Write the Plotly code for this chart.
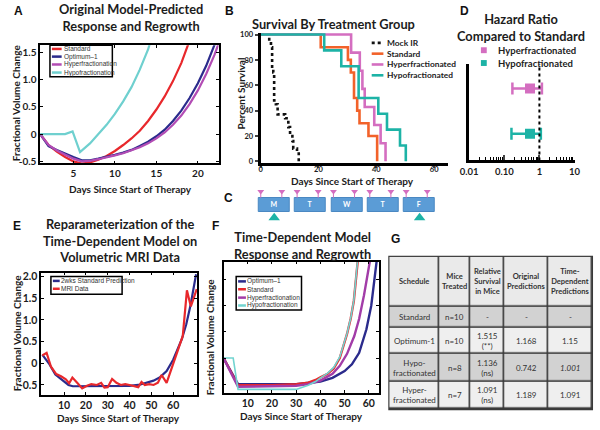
import plotly.graph_objects as go

W, H = 600, 430
def fx(p): return p / W
def fy(p): return 1 - p / H

# ---------------- Panel A : original model predictions ----------------
A_names = ["Standard", "Optimum\u20131", "Hyperfractionation", "Hypofractionation"]
A_colors = ["#e8282c", "#2b2b8c", "#b24cb4", "#6fd0cf"]
A_std_days = [1, 2, 3, 4, 5, 6, 7, 8, 9, 10, 11, 12, 13, 14, 15, 16, 17, 18, 18.8, 19.2]
A_std_vals = [0, -0.2, -0.32, -0.42, -0.5, -0.54, -0.52, -0.47, -0.4, -0.31, -0.2, -0.08, 0.06, 0.24, 0.45, 0.69, 0.97, 1.3, 1.63, 1.8]
A_opt_days = [1, 2, 3, 4, 5, 6, 7, 8, 9, 10, 11, 12, 13, 14, 15, 16, 17, 18, 19, 20, 21, 22, 22.3]
A_opt_vals = [0, -0.22, -0.29, -0.36, -0.42, -0.48, -0.48, -0.45, -0.42, -0.38, -0.34, -0.29, -0.22, -0.14, -0.04, 0.08, 0.24, 0.43, 0.66, 0.93, 1.25, 1.62, 1.75]
A_hyper_days = [1, 2, 3, 4, 5, 6, 7, 8, 9, 10, 11, 12, 13, 14, 15, 16, 17, 18, 19, 20, 21, 22, 22.6]
A_hyper_vals = [0, -0.2, -0.3, -0.38, -0.45, -0.5, -0.49, -0.46, -0.43, -0.39, -0.35, -0.3, -0.24, -0.17, -0.08, 0.03, 0.17, 0.34, 0.55, 0.8, 1.1, 1.45, 1.7]
A_hypo_days = [1, 4, 4.9, 5.8, 7, 8, 9, 10, 11, 12, 13, 14, 14.3]
A_hypo_vals = [0, 0, 0.05, -0.33, -0.17, 0.0, 0.17, 0.37, 0.6, 0.86, 1.18, 1.55, 1.7]
A_xticks = [5, 10, 15, 20]
A_yticks = [-0.5, 0, 0.5, 1.0, 1.5]
A_yticklabels = ["-0.5", "0", "0.5", "1.0", "1.5"]

# ---------------- Panel B : survival ----------------
B_names = ["Mock IR", "Standard", "Hyperfractionated", "Hypofractionated"]
B_colors = ["#111111", "#f2622a", "#d46ec0", "#1db3a6"]
B_mock_days = [0, 3.0, 3.6, 4.0, 4.4, 4.7, 5.3, 5.9, 8.5, 9.6, 10.2, 11.0, 11.3, 12.6, 13.2]
B_mock_surv = [100, 93, 90, 73, 70, 48, 45, 37, 34, 27, 20, 16, 10, 8, 0]
B_std_days = [0, 20.8, 30.2, 31.2, 32.3, 33.4, 34.2, 37.3, 40.3]
B_std_surv = [100, 90, 80, 70, 50, 40, 30, 20, 0]
B_hyper_days = [0, 31.3, 34.3, 35.2, 36.0, 39.3, 41.5, 43.2]
B_hyper_surv = [100, 85.7, 71.4, 57.1, 42.9, 28.6, 14.3, 0]
B_hypo_days = [0, 22.0, 27.9, 33.9, 40.7, 43.7, 48.2, 50.2]
B_hypo_surv = [100, 87.5, 75, 50, 37.5, 25, 12.5, 0]
B_xticks = [0, 20, 40, 60]
B_yticks = [0, 20, 40, 60, 80, 100]

# ---------------- Panel C : schedule ----------------
C_days = ["M", "T", "W", "T", "F"]
C_day_index = [0, 1, 2, 3, 4]
C_hyper_offsets = [-0.37, 0.21]
C_hypo_days = [0, 4]

# ---------------- Panel D : hazard ratio ----------------
D_groups = ["Hyperfractionated", "Hypofractionated"]
D_colors = ["#d46ec0", "#1db3a6"]
D_hr = [0.54, 0.54]
D_lo = [0.17, 0.16]
D_hi = [1.18, 1.1]
D_rows = [2, 1]
D_ref = 1
D_xticks = [0.01, 0.1, 1, 10]
D_xticklabels = ["0.01", "0.10", "1", "10"]

# ---------------- Panel E : MRI reparameterization ----------------
E_names = ["2wks Standard Prediction", "MRI Data"]
E_colors = ["#2b2b8c", "#e8282c"]
E_pred_days = [0, 3, 6, 9, 12, 14, 20, 30, 40, 45, 48, 51, 54, 57, 60, 62, 64, 66, 68, 70.5]
E_pred_vals = [0.2, 0.0, -0.26, -0.38, -0.5, -0.53, -0.53, -0.53, -0.52, -0.49, -0.45, -0.4, -0.32, -0.18, 0.08, 0.3, 0.56, 0.9, 1.35, 2.05]
E_mri_days = [0, 2, 4, 6.4, 8.6, 10.8, 12.3, 13.8, 16, 18.3, 20.5, 22.5, 25, 27, 28.5, 30, 32, 34, 36, 38, 40,
              42, 44, 45.5, 47, 49, 51, 53, 54.7, 57, 60, 64.4, 66.3, 68.1, 70.8]
E_mri_vals = [0.18, 0.24, -0.08, -0.25, -0.3, -0.37, -0.46, -0.33, -0.45, -0.58, -0.52, -0.48, -0.5, -0.45, -0.56,
              -0.55, -0.36, -0.45, -0.5, -0.48, -0.5, -0.52, -0.55, -0.43, -0.5, -0.48, -0.5, -0.45, -0.27, -0.45,
              0.0, 0.63, 1.68, 1.31, 1.71]
E_xticks = [10, 20, 30, 40, 50, 60]
E_yticks = [-0.5, 0, 0.5, 1.0, 1.5, 2.0]
E_yticklabels = ["-0.5", "0", "0.5", "1.0", "1.5", "2.0"]

# ---------------- Panel F : time-dependent model ----------------
F_names = ["Optimum\u20131", "Standard", "Hyperfractionation", "Hypofractionation"]
F_colors = ["#2b2b8c", "#e8282c", "#a23ca8", "#72d4d0"]
F_opt_days = [0, 6, 30, 35, 40, 45, 50, 53, 56, 59, 61, 63.2]
F_opt_vals = [0, -0.5, -0.5, -0.48, -0.45, -0.38, -0.25, -0.12, 0.1, 0.55, 1.0, 1.84]
F_std_days = [0, 6, 20, 30, 35, 38, 40, 43, 45.5, 48, 51, 52.5, 53.8, 55.4]
F_std_vals = [0, -0.52, -0.52, -0.5, -0.47, -0.42, -0.37, -0.3, -0.2, 0.0, 0.46, 0.75, 1.09, 1.84]
F_hyper_days = [0, 6, 30, 35, 40, 45, 48, 51, 54, 56, 58, 60.4]
F_hyper_vals = [0, -0.55, -0.53, -0.5, -0.43, -0.3, -0.15, 0.08, 0.42, 0.75, 1.2, 1.84]
F_hypo_days = [0, 4, 6, 30, 35, 38, 40, 43, 45.5, 48, 51, 52.5, 53.8, 55.3]
F_hypo_vals = [0, 0, -0.6, -0.6, -0.52, -0.45, -0.38, -0.29, -0.18, 0.02, 0.47, 0.76, 1.1, 1.84]
F_xticks = [10, 20, 30, 40, 50, 60]
F_yticks = [-0.5, 0, 0.5, 1.0, 1.5]

# ---------------- Panel G : table ----------------
G_header = ["<b>Schedule</b>", "<b>Mice<br>Treated</b>", "<b>Relative<br>Survival<br>in Mice</b>",
            "<b>Original<br>Predictions</b>", "<b>Time-<br>Dependent<br>Predictions</b>"]
G_schedule = ["Standard", "Optimum-1", "Hypo-<br>fractionated", "Hyper-<br>fractionated"]
G_mice = ["n=10", "n=10", "n=8", "n=7"]
G_relative = ["-", "1.515<br>(**)", "1.136<br>(ns)", "1.091<br>(ns)"]
G_original = ["-", "1.168", "0.742", "1.189"]
G_timedep = ["-", "1.15", "<i>1.001</i>", "1.091"]
G_row_shade = [1, 0, 1, 0]          # 1 = darker row, 0 = light row
G_col_widths = [51, 32, 35, 45, 45]
G_row_heights = [51, 21, 27, 28, 28]

# ---------------- styles ----------------
BOLD = "Lato"
TXT = "#1c1c1c"
def bfont(size, color=TXT, family=BOLD):
    return dict(family=family, size=size, color=color, weight=700)

fig = go.Figure()

# Panel A traces
for d, v, n, c in zip([A_std_days, A_opt_days, A_hyper_days, A_hypo_days],
                      [A_std_vals, A_opt_vals, A_hyper_vals, A_hypo_vals], A_names, A_colors):
    fig.add_trace(go.Scatter(x=d, y=v, name=n, mode="lines", line=dict(color=c, width=2.2),
                             xaxis="x", yaxis="y", showlegend=False))

# Panel B traces
for d, s, n, c in zip([B_mock_days, B_std_days, B_hyper_days, B_hypo_days],
                      [B_mock_surv, B_std_surv, B_hyper_surv, B_hypo_surv], B_names, B_colors):
    fig.add_trace(go.Scatter(x=d, y=s, name=n, mode="lines", line_shape="hv",
                             line=dict(color=c, width=2.6, dash="dot" if n == "Mock IR" else "solid"),
                             xaxis="x2", yaxis="y2", showlegend=False))

# Panel D traces
for i in range(len(D_groups)):
    fig.add_trace(go.Scatter(x=[D_hr[i]], y=[D_rows[i]], name=D_groups[i], mode="markers",
                             marker=dict(symbol="square", size=10, color=D_colors[i]),
                             error_x=dict(type="data", symmetric=False, array=[D_hi[i] - D_hr[i]],
                                          arrayminus=[D_hr[i] - D_lo[i]], color=D_colors[i],
                                          thickness=2.5, width=6),
                             xaxis="x3", yaxis="y3", showlegend=False))

# Panel E traces
for d, v, n, c in zip([E_pred_days, E_mri_days], [E_pred_vals, E_mri_vals], E_names, E_colors):
    fig.add_trace(go.Scatter(x=d, y=v, name=n, mode="lines", line=dict(color=c, width=2.2),
                             xaxis="x4", yaxis="y4", showlegend=False))

# Panel F traces
for d, v, n, c, w in zip([F_opt_days, F_std_days, F_hyper_days, F_hypo_days],
                         [F_opt_vals, F_std_vals, F_hyper_vals, F_hypo_vals], F_names, F_colors,
                         [2.4, 2.4, 2.4, 1.6]):
    fig.add_trace(go.Scatter(x=d, y=v, name=n, mode="lines", line=dict(color=c, width=w),
                             xaxis="x5", yaxis="y5", showlegend=False))

# Panel C : schedule boxes and fraction markers
fig.add_trace(go.Bar(x=C_day_index, y=[1] * len(C_days), base=0, width=0.86, text=C_days,
                     textposition="inside", insidetextanchor="middle", textangle=0,
                     textfont=bfont(10.5, "white"),
                     marker=dict(color="#5b9cd6", line=dict(color="#4a88c2", width=1)),
                     xaxis="x6", yaxis="y6", showlegend=False, hoverinfo="skip"))
hyper_x = [d + o for d in C_day_index for o in C_hyper_offsets]
fig.add_trace(go.Scatter(x=hyper_x, y=[1.42] * len(hyper_x), mode="markers",
                         marker=dict(symbol="triangle-down", size=6, color="#d46ec0"),
                         error_y=dict(type="data", symmetric=False, array=[0] * len(hyper_x),
                                      arrayminus=[0.42] * len(hyper_x), color="#d46ec0",
                                      thickness=1, width=0),
                         xaxis="x6", yaxis="y6", showlegend=False))
fig.add_trace(go.Scatter(x=C_hypo_days, y=[-0.36] * len(C_hypo_days), mode="markers",
                         marker=dict(symbol="triangle-up", size=10, color="#1db3a6"),
                         xaxis="x6", yaxis="y6", showlegend=False))

# Panel G : table drawn as a heatmap of cells on its own axes
col_edges = [0]
for w_ in G_col_widths:
    col_edges.append(col_edges[-1] + w_)
row_edges = [0]
for h_ in G_row_heights:
    row_edges.append(row_edges[-1] + h_)
G_z = [[2] * len(G_col_widths)] + [[s] * len(G_col_widths) for s in G_row_shade]
fig.add_trace(go.Heatmap(x=col_edges, y=row_edges, z=G_z, zmin=0, zmax=2,
                         colorscale=[[0, "#efefef"], [0.5, "#d2d2d2"], [1, "#eaeaea"]],
                         showscale=False, xgap=1.6, ygap=1.6, hoverinfo="skip",
                         xaxis="x7", yaxis="y7"))

# ---------------- axes ----------------
def box_axis(domain, rng, **kw):
    d = dict(domain=domain, range=rng, showgrid=False, zeroline=False, showline=True,
             linecolor="black", linewidth=1.5, mirror="ticks", ticks="inside", ticklen=3,
             tickcolor="black", tickwidth=1)
    d.update(kw)
    return d

G_left, G_top = 390, 258
fig.update_layout(
    width=W, height=H, margin=dict(l=0, r=0, t=0, b=0),
    paper_bgcolor="white", plot_bgcolor="white", showlegend=False, bargap=0,
    # A
    xaxis=box_axis([fx(32), fx(215)], [1, 22.5], tickvals=A_xticks, tickfont=bfont(10), anchor="y"),
    yaxis=box_axis([fy(163), fy(43)], [-0.536, 1.626], tickvals=A_yticks, ticktext=A_yticklabels,
                   tickfont=bfont(10), anchor="x"),
    # B
    xaxis2=dict(domain=[fx(258), fx(450)], range=[0, 64.7], anchor="y2", showgrid=False, zeroline=False,
                showline=True, linecolor="black", linewidth=2.8, ticks="outside", ticklen=2, tickwidth=1.5,
                tickvals=B_xticks, tickfont=bfont(7.5), ticklabelstandoff=-5),
    yaxis2=dict(domain=[fy(162.5), fy(30.5)], range=[-1.2, 101.2], anchor="x2", showgrid=False, zeroline=False,
                showline=True, linecolor="black", linewidth=2.8, ticks="outside", ticklen=3, tickwidth=1.5,
                tickvals=B_yticks, tickfont=bfont(7.5)),
    # D
    xaxis3=dict(domain=[fx(472), fx(580)], type="log", range=[-2, 1], anchor="y3", showgrid=False,
                zeroline=False, showline=True, linecolor="black", linewidth=2.8, ticks="inside", ticklen=5,
                tickwidth=1.5, tickvals=D_xticks, ticktext=D_xticklabels, tickfont=bfont(9.5),
                minor=dict(ticks="inside", ticklen=3, tickwidth=1.2, tickcolor="black",
                           tickvals=[m * 10 ** k for k in (-2, -1, 0) for m in range(2, 10)])),
    yaxis3=dict(domain=[fy(160), fy(62)], range=[0.413, 2.54], anchor="x3", showgrid=False, zeroline=False,
                showline=True, linecolor="black", linewidth=2.8, showticklabels=False, ticks=""),
    # E
    xaxis4=box_axis([fx(33), fx(193)], [-0.5, 71], tickvals=E_xticks, tickfont=bfont(10.5), anchor="y4"),
    yaxis4=box_axis([fy(398), fy(274)], [-0.72, 2.09], tickvals=E_yticks, ticktext=E_yticklabels,
                    tickfont=bfont(10.5), anchor="x4"),
    # F
    xaxis5=box_axis([fx(220), fx(379)], [0, 64], tickvals=F_xticks, tickfont=bfont(10.5), anchor="y5"),
    yaxis5=box_axis([fy(396), fy(263)], [-0.66, 1.84], tickvals=F_yticks, showticklabels=False, anchor="x5"),
    # C
    xaxis6=dict(domain=[fx(250), fx(445)], range=[-0.59, 4.64], visible=False, anchor="y6"),
    yaxis6=dict(domain=[fy(226), fy(184)], range=[-0.87, 1.93], visible=False, anchor="x6"),
    # G (table)
    xaxis7=dict(domain=[fx(G_left), fx(G_left + col_edges[-1])], range=[0, col_edges[-1]],
                visible=False, anchor="y7"),
    yaxis7=dict(domain=[fy(G_top + row_edges[-1]), fy(G_top)], range=[row_edges[-1], 0],
                visible=False, anchor="x7"),
)

fig.add_shape(type="line", xref="x3", yref="y3 domain", x0=D_ref, x1=D_ref, y0=0, y1=1,
              line=dict(color="black", width=2, dash="dot"))
# dark frame behind the table cells (shows through the cell gaps as grid lines)
fig.add_shape(type="rect", xref="paper", yref="paper", layer="below",
              x0=fx(G_left - 1), x1=fx(G_left + col_edges[-1] + 1),
              y0=fy(G_top + row_edges[-1] + 1), y1=fy(G_top - 1),
              line=dict(width=0), fillcolor="#3a3a3a")

# table texts
G_columns = [G_schedule, G_mice, G_relative, G_original, G_timedep]
for j, col in enumerate(G_columns):
    xc = (col_edges[j] + col_edges[j + 1]) / 2
    fig.add_annotation(xref="x7", yref="y7", x=xc, y=(row_edges[0] + row_edges[1]) / 2, text=G_header[j],
                       showarrow=False, font=dict(family=BOLD, size=7.5, color="#333"), align="center")
    for i, val in enumerate(col):
        fig.add_annotation(xref="x7", yref="y7", x=xc, y=(row_edges[i + 1] + row_edges[i + 2]) / 2,
                           text=val, showarrow=False, font=dict(family=BOLD, size=8, color="#333"),
                           align="center")

# ---------------- text ----------------
def note(x, y, text, font, xanchor="center", yanchor="middle", angle=0, pad=1):
    fig.add_annotation(xref="paper", yref="paper", x=fx(x), y=fy(y), text=text, showarrow=False,
                       xanchor=xanchor, yanchor=yanchor, font=font, textangle=angle, align="center",
                       borderpad=pad)

LET = dict(family="Liberation Sans", size=12, color="#111", weight=700)
for t, x, y in [("A", 10, 8), ("B", 226, 8), ("D", 467, 8), ("C", 225, 198),
                ("E", 8, 227), ("F", 212, 227), ("G", 396, 240)]:
    note(x, y, t, LET)

TF = bfont(12.8)
note(125, 14.5, "Original Model-Predicted<br>Response and Regrowth", TF)
note(333, 21, "Survival By Treatment Group", TF)
note(525, 25, "Hazard Ratio<br>Compared to Standard", TF)
note(114, 241, "Reparameterization of the<br>Time-Dependent Model on<br>Volumetric MRI Data", TF)
note(301, 246.5, "Time-Dependent Model<br>Response and Regrowth", TF)

AF = bfont(10)
note(125, 189, "Days Since Start of Therapy", AF)
note(8, 101, "Fractional Volume Change", AF, angle=-90)
note(352, 181, "Days Since Start of Therapy", AF, pad=0)
note(237, 92, "Percent Survival", AF, angle=-90)
note(112, 422, "Days Since Start of Therapy", AF)
note(8, 335, "Fractional Volume Change", AF, angle=-90)
note(300, 420, "Days Since Start of Therapy", AF)
note(207, 339, "Fractional Volume Change", AF, angle=-90)

# ---------------- legends ----------------
SMALL = dict(family="Liberation Sans", size=6.5, color="#333")
def line_legend(names, colors, widths, dashes, x0, x1, ys, tx, font, box=None):
    if box:
        fig.add_shape(type="rect", xref="paper", yref="paper", x0=fx(box[0]), x1=fx(box[2]),
                      y0=fy(box[3]), y1=fy(box[1]), line=dict(color="black", width=1.5), fillcolor="white")
    for n, c, w, d, y in zip(names, colors, widths, dashes, ys):
        fig.add_shape(type="line", xref="paper", yref="paper", x0=fx(x0), x1=fx(x1), y0=fy(y), y1=fy(y),
                      line=dict(color=c, width=w, dash=d))
        note(tx, y, n, font, xanchor="left", pad=0)

line_legend(A_names, A_colors, [2.5] * 4, ["solid"] * 4, 44, 54, [46.7, 54.5, 62.5, 70.7], 55, SMALL,
            box=(42, 43, 106, 75))
line_legend(E_names, E_colors, [2.5] * 2, ["solid"] * 2, 45, 52, [282.5, 290.5], 52.5, SMALL,
            box=(43, 278, 116, 296))
line_legend(F_names, F_colors, [2.5] * 4, ["solid"] * 4, 235, 243, [283, 291, 299.5, 307.5], 243.5, SMALL,
            box=(233, 278, 300, 312))
line_legend(B_names, B_colors, [2.6] * 4, ["dot", "solid", "solid", "solid"], 372, 384,
            [40.5, 51.5, 62.5, 73.5], 387, bfont(8.4, "#222"))

for g, c, y in zip(D_groups, D_colors, [48, 61]):
    fig.add_shape(type="rect", xref="paper", yref="paper", x0=fx(484), x1=fx(490), y0=fy(y + 3), y1=fy(y - 3),
                  line=dict(width=0), fillcolor=c)
    note(500, y, g, bfont(9.5, "#222"), xanchor="left", pad=0)

fig.write_html("out.html", config={"displayModeBar": False},
               post_script="document.body.style.margin='0';")
